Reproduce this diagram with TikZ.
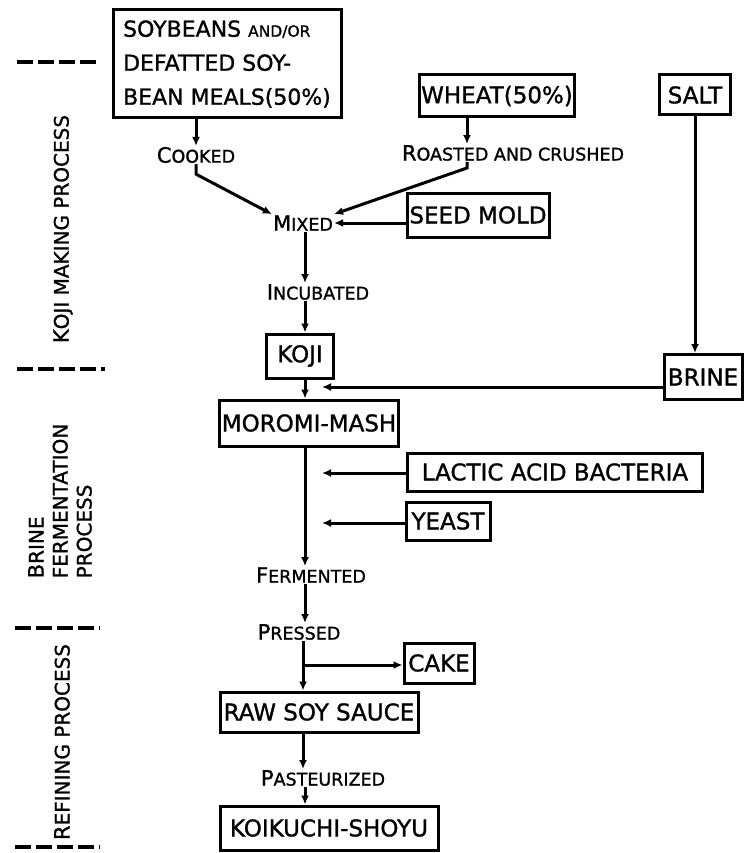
\documentclass[tikz,border=0pt]{standalone}
\usepackage{fontspec}
\newfontfamily\draft{DejaVu Sans}[FakeStretch=1.0,FakeBold=1.2]
\usetikzlibrary{arrows.meta}
\usetikzlibrary{positioning}

\newcommand{\lowcaps}[1]{{\fontsize{15.5}{18}\selectfont #1}}
\newcommand{\bigini}[1]{{\fontsize{21}{23}\selectfont #1}}

\tikzset{
  stage/.style={draw, line width=3pt, inner sep=2pt, font=\draft\fontsize{23}{34}\selectfont},
  stagelabel/.style={font=\draft\fontsize{17.5}{20}\selectfont, inner sep=1pt},
  flow/.style={line width=3pt, -{Latex[length=9pt,width=8pt]}},
  divider/.style={line width=3.2pt, dash pattern=on 16pt off 5pt},
  phase/.style={rotate=90, align=left, font=\draft\fontsize{20}{24}\selectfont}
}

\begin{document}
\begin{tikzpicture}[x=1pt,y=-1pt]
    \useasboundingbox (0,0) rectangle (744,853);

    % raw materials
    \node[stage, align=left, minimum width=228pt, minimum height=108pt, font=\draft\fontsize{22}{34}\selectfont] (soy) at (227,64) {SOYBEANS \lowcaps{AND/OR}\\DEFATTED SOY-\\BEAN MEALS(50\%)};
    \node[stage, minimum width=155pt, minimum height=42pt] (wheat) at (497,96) {WHEAT(50\%)};
    \node[stage, minimum width=71pt, minimum height=40pt] (salt) at (695,95) {SALT};

    \node[stagelabel] (cooked) at (196,155) {\bigini{C}OOKED};
    \node[stagelabel] (roasted) at (513,153) {\bigini{R}OASTED AND CRUSHED};
    \node[stagelabel] (mixed) at (303,223) {\bigini{M}IXED};
    \node[stage, minimum width=142pt, minimum height=44pt] (seed) at (478,215) {SEED MOLD};
    \node[stagelabel] (incubated) at (318,292) {\bigini{I}NCUBATED};
    \node[stage, minimum width=67pt, minimum height=44pt] (koji) at (300,356) {KOJI};

    % brine fermentation
    \node[stage, minimum width=78pt, minimum height=45pt] (brine) at (703,377) {BRINE};
    \node[stage, minimum width=168pt, minimum height=46pt] (moromi) at (309,423) {MOROMI-MASH};
    \node[stage, minimum width=295pt, minimum height=38pt] (lab) at (555,472) {LACTIC ACID BACTERIA};
    \node[stage, minimum width=84pt, minimum height=38pt] (yeast) at (448,521) {YEAST};
    \node[stagelabel] (fermented) at (311,575) {\bigini{F}ERMENTED};

    % refining
    \node[stagelabel] (pressed) at (299,632) {\bigini{P}RESSED};
    \node[stage, minimum width=70pt, minimum height=40pt] (cake) at (439,663) {CAKE};
    \node[stage, minimum width=198pt, minimum height=40pt] (raw) at (319,712) {RAW SOY SAUCE};
    \node[stagelabel] (pasteurized) at (323,778) {\bigini{P}ASTEURIZED};
    \node[stage, minimum width=218pt, minimum height=44pt] (koikuchi) at (329,828) {KOIKUCHI-SHOYU};

    % process phases
    \node[phase] (kojiphase) at (63,229) {\bigini{K}OJI MAKING PROCESS};
    \node[phase] (brinephase) at (60,501) {\bigini{B}RINE\\FERMENTATION\\PROCESS};
    \node[phase] (refiningphase) at (62,742) {\bigini{R}EFINING PROCESS};

    \draw[divider] (17,62) -- (97,62);
    \draw[divider] (17,369) -- (105,369);
    \draw[divider] (15,628) -- (100,628);
    \draw[divider] (15,847) -- (100,847);

    % connectors
    \coordinate (spine) at (305,0);
    \coordinate (wheatline) at (467,0);
    \coordinate (brinein) at (322,387);
    \coordinate (labin) at (322,473);
    \coordinate (yeastin) at (322,523);
    \coordinate (split) at (303,665);

    \draw[flow] (soy.south -| cooked) -- (cooked.north);
    \draw[flow] (wheat.south -| wheatline) -- (roasted.north -| wheatline);
    \draw[flow] (cooked.south) -- ++(0,10) -- (mixed.north west);
    \draw[flow] (roasted.south -| wheatline) -- ++(0,6) -- (mixed.north east);
    \draw[flow] (seed.west |- mixed) -- (mixed.east);
    \draw[flow] (mixed.south -| spine) -- (incubated.north -| spine);
    \draw[flow] (incubated.south -| spine) -- (koji.north -| spine);
    \draw[flow] (koji.south -| spine) -- (moromi.north -| spine);
    \draw[flow] (salt.south) -- (salt.south |- brine.north);
    \draw[flow] (brine.west |- brinein) -- (brinein);
    \draw[flow] (moromi.south -| spine) -- (fermented.north -| spine);
    \draw[flow] (lab.west |- labin) -- (labin);
    \draw[flow] (yeast.west |- yeastin) -- (yeastin);
    \draw[flow] (fermented.south -| spine) -- (pressed.north -| spine);
    \draw[flow] (pressed.south -| split) -- (raw.north -| split);
    \draw[flow] (split) -- (cake.west |- split);
    \draw[flow] (raw.south -| split) -- (pasteurized.north -| split);
    \draw[flow] (pasteurized.south -| spine) -- (koikuchi.north -| spine);
\end{tikzpicture}
\end{document}
